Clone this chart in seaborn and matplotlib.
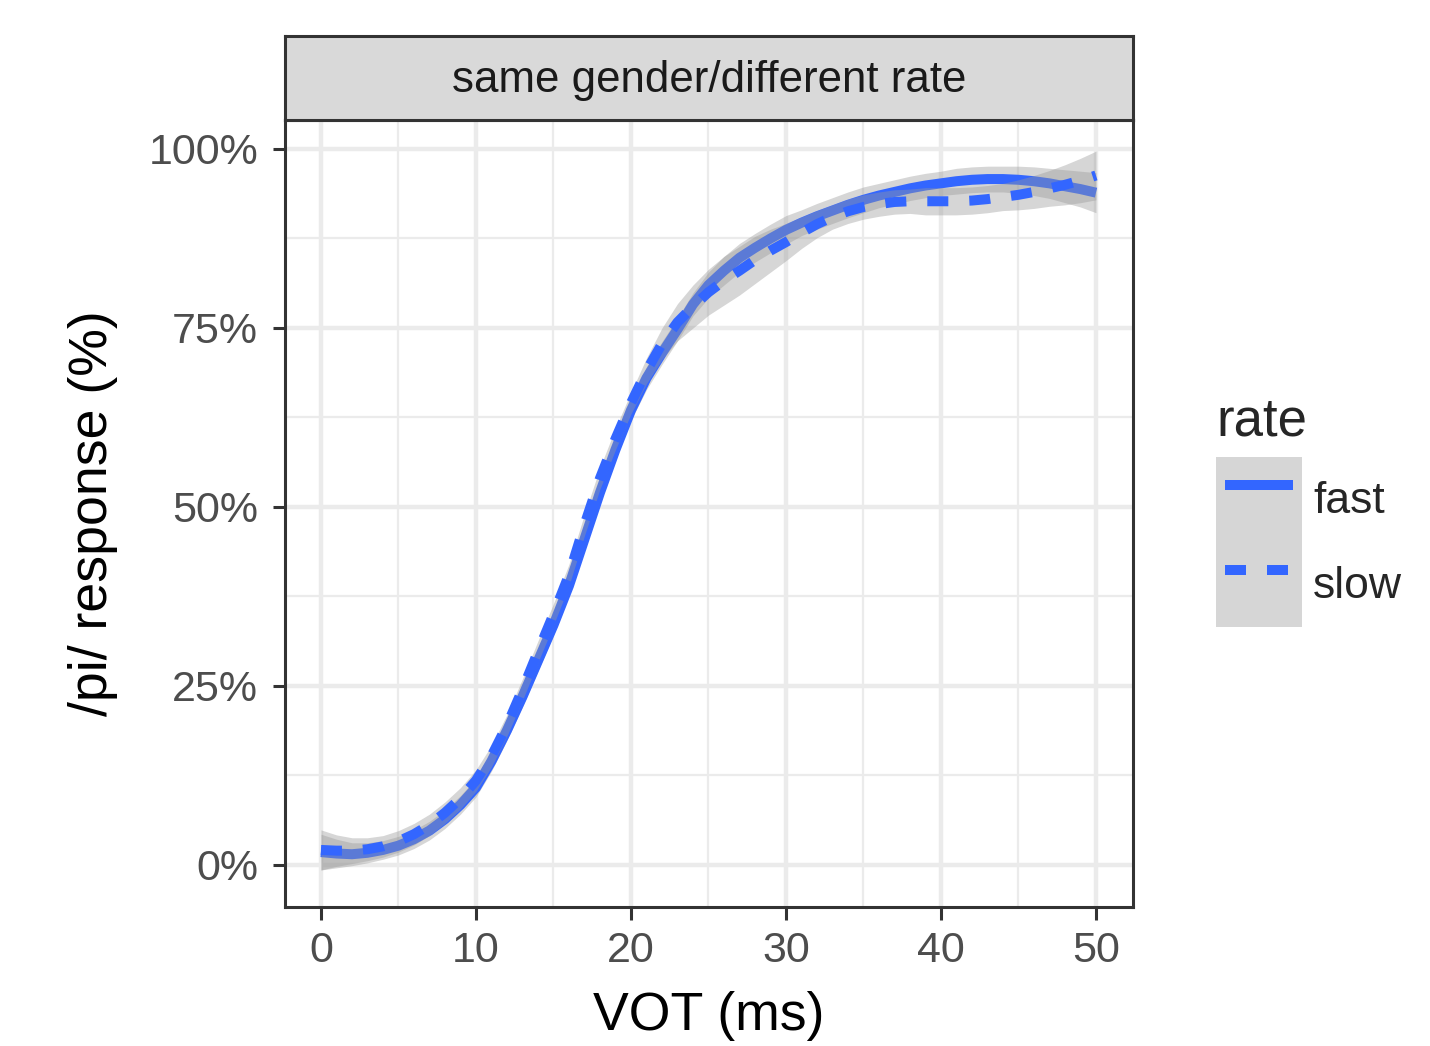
import numpy as np
import pandas as pd
import matplotlib
matplotlib.use("Agg")
import matplotlib.pyplot as plt
import seaborn as sns
from matplotlib.patches import Patch
from matplotlib.lines import Line2D
from matplotlib.legend_handler import HandlerLine2D, HandlerTuple
from matplotlib.ticker import FuncFormatter, MultipleLocator

# ---------------- data ----------------
vot = list(range(0, 51))

fast_pct = [1.8, 1.6, 1.5, 1.7, 2.1, 2.7, 3.6, 4.8, 6.4, 8.4,
            10.8, 14.5, 18.8, 23.5, 28.5, 33.5, 39.0, 45.5, 52.0, 58.0,
            63.5, 68.0, 71.5, 74.8, 78.3, 81.0, 83.0, 84.8, 86.2, 87.5,
            88.7, 89.7, 90.6, 91.4, 92.2, 92.9, 93.5, 94.0, 94.5, 94.9,
            95.2, 95.5, 95.7, 95.8, 95.8, 95.7, 95.5, 95.2, 94.8, 94.4,
            93.9]
slow_pct = [2.1, 2.0, 2.0, 2.2, 2.6, 3.3, 4.3, 5.6, 7.3, 9.3,
            11.8, 15.2, 19.5, 24.5, 29.8, 35.0, 40.5, 47.5, 54.0, 59.5,
            64.5, 69.0, 72.8, 75.8, 78.0, 80.0, 81.6, 83.0, 84.5, 85.8,
            87.0, 88.3, 89.5, 90.5, 91.3, 91.9, 92.3, 92.6, 92.7, 92.7,
            92.7, 92.7, 92.8, 93.0, 93.3, 93.6, 94.0, 94.5, 95.0, 95.6,
            96.3]
fast_hw = [2.5, 2.0, 1.6, 1.4, 1.3, 1.3, 1.3, 1.3, 1.3, 1.3,
           1.3, 1.4, 1.4, 1.4, 1.4, 1.4, 1.4, 1.4, 1.4, 1.4,
           1.4, 1.6, 1.6, 1.6, 1.6, 1.8, 2.0, 2.0, 2.0, 2.0,
           2.0, 1.8, 1.8, 1.8, 1.8, 1.8, 1.7, 1.7, 1.7, 1.7,
           1.7, 1.8, 1.8, 1.8, 1.8, 1.9, 2.0, 2.1, 2.3, 2.5,
           2.8]
slow_hw = [2.8, 2.2, 1.8, 1.6, 1.5, 1.5, 1.5, 1.5, 1.5, 1.5,
           1.5, 1.5, 1.5, 1.5, 1.5, 1.5, 1.5, 1.5, 1.5, 1.5,
           1.5, 1.8, 2.2, 2.6, 3.0, 3.2, 3.4, 3.4, 3.3, 3.0,
           2.6, 2.2, 1.9, 1.7, 1.7, 1.7, 1.7, 1.7, 1.7, 1.9,
           1.9, 1.9, 1.9, 1.9, 1.9, 2.1, 2.3, 2.5, 2.8, 3.1,
           3.4]
rates = ["fast", "slow"]
panel_title = "same gender/different rate"
x_ticks = [0, 10, 20, 30, 40, 50]
y_ticks = [0, 25, 50, 75, 100]

# ---------------- style ----------------
sns.set_theme(style="white")
plt.rcParams["font.family"] = ["Liberation Sans", "DejaVu Sans"]

BLUE = "#3366FF"
GRID = "#EBEBEB"
DARK = "#333333"
TICKC = "#4D4D4D"

df = pd.DataFrame({
    "VOT": vot * 2,
    "pct": fast_pct + slow_pct,
    "rate": ["fast"] * len(vot) + ["slow"] * len(vot),
})

W, H, DPI = 1430, 1046, 200
fig = plt.figure(figsize=(W / DPI, H / DPI), dpi=DPI)
L, R, B, T = 285 / W, 1133 / W, 1 - 907 / H, 1 - 120 / H
ax = fig.add_axes([L, B, R - L, T - B])
ax.set_facecolor("white")

# ribbons + lines, in ggplot draw order (fast ribbon, fast line, slow ribbon, slow line)
fa, fh = np.array(fast_pct), np.array(fast_hw)
sa, sh = np.array(slow_pct), np.array(slow_hw)
ax.fill_between(vot, fa - fh, fa + fh, color="#999999", alpha=0.4, lw=0, zorder=3)
ax.fill_between(vot, sa - sh, sa + sh, color="#999999", alpha=0.4, lw=0, zorder=5)

sns.lineplot(data=df, x="VOT", y="pct", hue="rate", style="rate",
             palette={"fast": BLUE, "slow": BLUE},
             dashes={"fast": "", "slow": (2.1, 2.1)},
             linewidth=3.6, ax=ax, legend=False, sort=True)
lines = [l for l in ax.get_lines()]
for ln, z in zip(lines, [4, 6]):
    ln.set_zorder(z)
    ln.set_dash_capstyle("butt")
    ln.set_solid_capstyle("butt")

# axes
ax.set_xlim(-2.32, 52.39)
ax.set_ylim(-5.87, 104.05)
ax.set_xticks(x_ticks)
ax.set_yticks(y_ticks)
ax.xaxis.set_minor_locator(MultipleLocator(5))
ax.yaxis.set_minor_locator(MultipleLocator(12.5))
ax.yaxis.set_major_formatter(FuncFormatter(lambda v, p: f"{int(round(v))}%"))
ax.grid(which="major", color=GRID, lw=1.6, zorder=0)
ax.grid(which="minor", color=GRID, lw=0.8, zorder=0)
ax.set_axisbelow(True)
for s in ax.spines.values():
    s.set_color(DARK)
    s.set_linewidth(1.1)
    s.set_zorder(10)
ax.tick_params(which="major", direction="out", length=4.5, width=1.1, color=DARK,
               labelsize=15.5, labelcolor=TICKC, pad=4.2, bottom=True, left=True)
ax.tick_params(axis="y", pad=5.2)
ax.tick_params(which="minor", length=0)
ax.set_xlabel("VOT (ms)", fontsize=19.3, color="black", labelpad=7)
ax.set_ylabel("/pi/ response (%)", fontsize=19.3, color="black", labelpad=11)

# facet strip
sax = fig.add_axes([L, T, R - L, (120 - 36) / H])
sax.set_facecolor("#D9D9D9")
sax.set_xticks([]); sax.set_yticks([])
for s in sax.spines.values():
    s.set_color(DARK); s.set_linewidth(1.1)
sax.text(0.5, 0.47, panel_title, ha="center", va="center", fontsize=15.8,
         color="#1A1A1A", transform=sax.transAxes)


# legend
class ShortLine(HandlerLine2D):
    def create_artists(self, legend, orig_handle, xdescent, ydescent, width, height, fontsize, trans):
        inset = width * 0.1
        return super().create_artists(legend, orig_handle, xdescent - inset, ydescent,
                                      width - 2 * inset, height, fontsize, trans)


key_bg = Patch(facecolor="#D6D6D6", edgecolor="none")
h_fast = Line2D([], [], color=BLUE, lw=3.6, solid_capstyle="butt")
h_slow = Line2D([], [], color=BLUE, lw=3.6, dashes=(2.1, 2.1), dash_capstyle="butt")
leg = fig.legend(handles=[(key_bg, h_fast), (key_bg, h_slow)], labels=rates,
                 title="rate", loc="upper left",
                 bbox_to_anchor=(1216 / W, 1 - 396 / H),
                 frameon=False, fontsize=16, title_fontsize=19,
                 handlelength=1.93, handleheight=2.57, labelspacing=0.0,
                 handletextpad=0.25, borderpad=0, borderaxespad=0,
                 alignment="left",
                 handler_map={tuple: HandlerTuple(ndivide=1, pad=0),
                              Line2D: ShortLine()})
leg._legend_box.sep = 4

fig.savefig("out.png", dpi=DPI)
